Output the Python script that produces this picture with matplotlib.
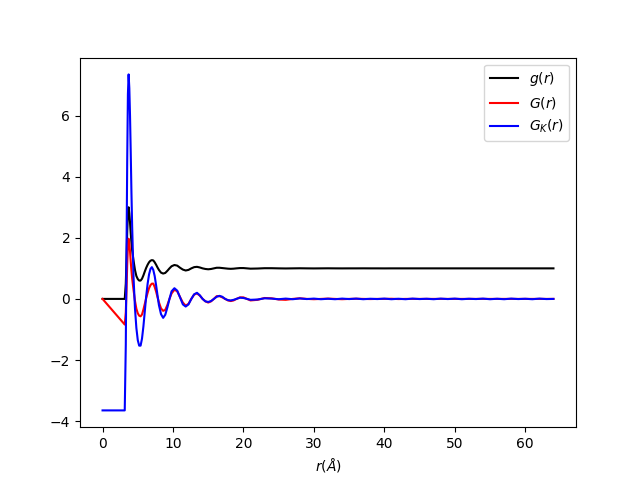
import numpy as np
import matplotlib
matplotlib.use('Agg')
from matplotlib import pyplot as plt

# r grid (Angstrom), dense near the peaks
r_head = [0, 3.15, 3.3, 3.4, 3.5, 3.6, 3.7, 3.8, 3.9, 4.0, 4.1, 4.2,
          4.4, 4.6, 4.8, 5.0, 5.2, 5.4, 5.6, 5.8, 6.0, 6.2, 6.4, 6.6, 6.8,
          7.0, 7.2, 7.4, 7.6, 7.8, 8.0, 8.3, 8.6, 8.9, 9.2, 9.5, 9.8,
          10.2, 10.6, 11.0, 11.4, 11.8, 12.2, 12.6, 13.0, 13.4, 13.8, 14.2,
          14.6, 15.0, 15.4, 15.8, 16.2, 16.6, 17.0, 17.4, 17.8, 18.2, 18.6,
          19.0, 19.5, 20.0, 20.5]
r_tail = list(range(21, 65))

g_head = [0, 0, 0.5, 1.3, 2.2, 2.8, 3.0, 2.8, 2.5, 2.15, 1.85, 1.6,
          1.25, 0.95, 0.75, 0.65, 0.6, 0.6, 0.66, 0.77, 0.9, 1.02, 1.12, 1.2, 1.25,
          1.27, 1.26, 1.2, 1.12, 1.03, 0.95, 0.86, 0.83, 0.85, 0.92, 1.0, 1.07,
          1.11, 1.09, 1.02, 0.96, 0.93, 0.95, 1.0, 1.04, 1.05, 1.03, 1.0,
          0.98, 0.97, 0.98, 1.0, 1.02, 1.02, 1.01, 1.0, 0.99, 0.985, 0.99,
          1.0, 1.01, 1.01, 1.0]
g_tail = [0.99, 0.995, 1.005, 1.005, 1.0, 0.997, 1.0, 1.003, 1.0, 0.998,
          1.0, 1.002, 1.0, 0.999, 1.0, 1.0, 1.001, 1.0, 1.0, 0.999,
          1.0, 1.0, 1.0, 1.0, 1.0, 1.0, 1.0, 1.0, 1.0, 1.0,
          1.0, 1.0, 1.0, 1.0, 1.0, 1.0, 1.0, 1.0, 1.0, 1.0,
          1.0, 1.0, 1.0, 1.0]

G_head = [0, -0.84, -0.44, 0.27, 1.12, 1.72, 1.97, 1.82, 1.56, 1.22, 0.93, 0.67,
          0.29, -0.06, -0.32, -0.47, -0.55, -0.57, -0.51, -0.35, -0.16, 0.03, 0.2, 0.35, 0.45,
          0.5, 0.5, 0.39, 0.24, 0.06, -0.11, -0.31, -0.39, -0.36, -0.2, 0.0, 0.18,
          0.3, 0.25, 0.06, -0.12, -0.22, -0.16, 0.0, 0.14, 0.18, 0.11, 0.0,
          -0.08, -0.12, -0.08, 0.0, 0.09, 0.09, 0.05, 0.0, -0.05, -0.07, -0.05,
          0.0, 0.05, 0.05, 0.0]
G_tail = [-0.05, -0.03, 0.03, 0.02, -0.02, -0.03, 0.0, 0.02, 0.0, -0.01,
          0.0, 0.01, 0.0, -0.01, 0.0, 0.005, 0.0, -0.005, 0.0, 0.0,
          0.005, -0.005, 0.0, 0.0, 0.0, 0.0, 0.0, 0.0, 0.0, 0.0,
          0.0, 0.0, 0.0, 0.0, 0.0, 0.0, 0.0, 0.0, 0.0, 0.0,
          0.0, 0.0, 0.0, 0.0]

GK_head = [-3.65, -3.65, -1.5, 1.5, 4.5, 6.7, 7.35, 6.9, 6.0, 4.8, 3.5, 2.4,
           0.7, -0.3, -0.95, -1.35, -1.53, -1.53, -1.3, -0.9, -0.4, 0.1, 0.5, 0.8, 0.98,
           1.04, 0.95, 0.75, 0.45, 0.12, -0.2, -0.5, -0.62, -0.52, -0.28, 0.0, 0.25,
           0.35, 0.27, 0.05, -0.18, -0.25, -0.18, 0.0, 0.15, 0.2, 0.12, 0.0,
           -0.08, -0.1, -0.07, 0.0, 0.07, 0.1, 0.07, 0.0, -0.04, -0.05, -0.03,
           0.0, 0.04, 0.03, 0.0]
GK_tail = [-0.03, -0.02, 0.02, 0.01, -0.01, 0.01, -0.01, 0.015, -0.005, 0.01,
           -0.01, 0.005, -0.01, 0.01, -0.005, 0.01, -0.01, 0.005, -0.005, 0.01,
           -0.01, 0.005, -0.01, 0.01, -0.005, 0.005, -0.01, 0.01, -0.005, 0.01,
           -0.01, 0.005, -0.005, 0.01, -0.01, 0.005, -0.01, 0.01, -0.005, 0.005,
           -0.01, 0.01, -0.005, 0.0]

r = np.array(r_head + r_tail, dtype=float)
g = np.array(g_head + g_tail)
G = np.array(G_head + G_tail)
GK = np.array(GK_head + GK_tail)

fig = plt.figure(figsize=(6.4, 4.8), dpi=100)
plt.plot(r, g, color='black', label='$g(r)$')
plt.plot(r, G, color='red', label='$G(r)$')
plt.plot(r, GK, color='blue', label='$G_K(r)$')
plt.xlabel('$r(Å)$')
plt.legend(loc='upper right')
plt.savefig('out.png')
